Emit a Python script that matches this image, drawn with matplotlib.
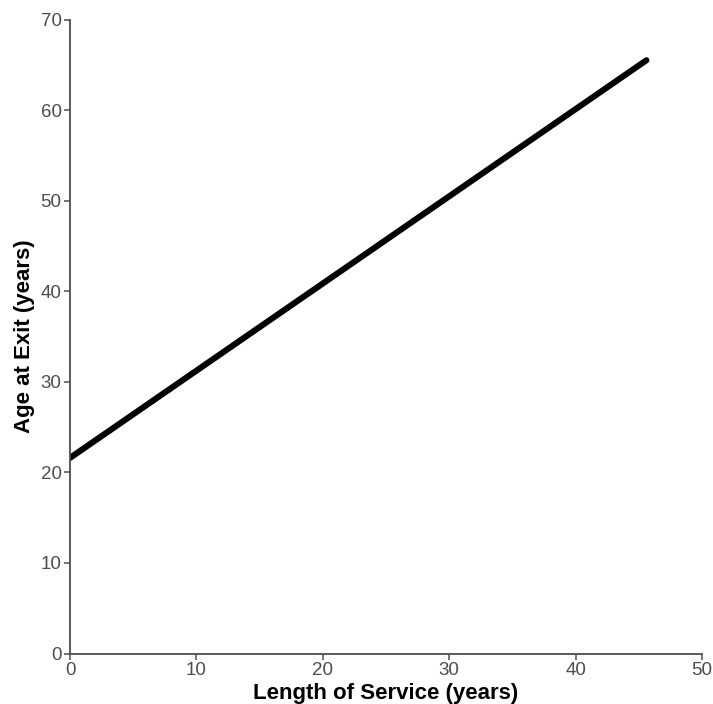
import matplotlib
matplotlib.use("Agg")
import matplotlib.pyplot as plt

# fitted line: length of service vs age at exit
service = [0, 45.6]
age_exit = [21.6, 65.5]

x_ticks = [0, 10, 20, 30, 40, 50]
y_ticks = [0, 10, 20, 30, 40, 50, 60, 70]

plt.rcParams['font.family'] = ['Liberation Sans', 'DejaVu Sans']

fig = plt.figure(figsize=(7.13, 7.04), dpi=100)
ax = fig.add_axes([0.0982, 0.0717, 0.8864, 0.9006])

ax.plot(service, age_exit, color='black', lw=4.4, solid_capstyle='round')

ax.set_xlim(0, 50)
ax.set_ylim(0, 70)
ax.set_xticks(x_ticks)
ax.set_yticks(y_ticks)

for s in ['top', 'right']:
    ax.spines[s].set_visible(False)
for s in ['left', 'bottom']:
    ax.spines[s].set_color('#4d4d4d')
    ax.spines[s].set_linewidth(1.3)

ax.tick_params(colors='#4d4d4d', labelcolor='#4d4d4d', labelsize=13.5,
               length=4, width=1.1, pad=2)

ax.set_xlabel('Length of Service (years)', fontsize=16, fontweight='bold', labelpad=3)
ax.set_ylabel('Age at Exit (years)', fontsize=16, fontweight='bold', labelpad=4)

fig.savefig('out.png', dpi=100)
